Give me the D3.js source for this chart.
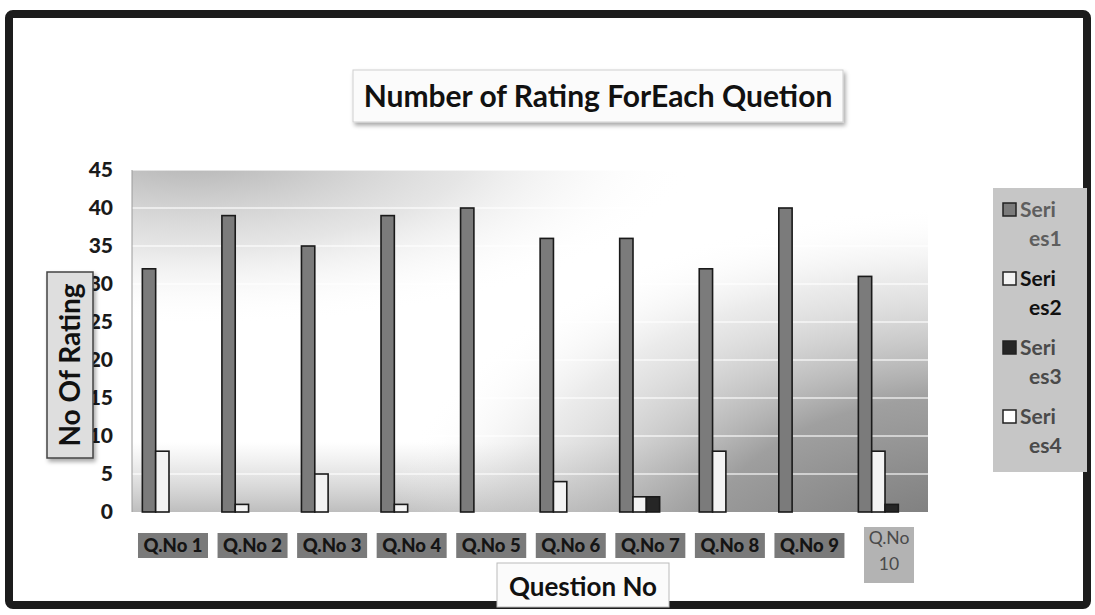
<!DOCTYPE html>
<html><head><meta charset="utf-8">
<script src="https://cdn.jsdelivr.net/npm/d3@7/dist/d3.min.js"></script>
<style>body{margin:0;background:#fff}svg{display:block}text{font-family:Lato,"Open Sans",sans-serif}</style>
</head><body>
<script>
const categories = ["Q.No 1","Q.No 2","Q.No 3","Q.No 4","Q.No 5","Q.No 6","Q.No 7","Q.No 8","Q.No 9","Q.No 10"];
const seriesNames = ["Series1","Series2","Series3","Series4"];
const series1 = [32,39,35,39,40,36,36,32,40,31];
const series2 = [8,1,5,1,0,4,2,8,0,8];
const series3 = [0,0,0,0,0,0,2,0,0,1];
const series4 = [0,0,0,0,0,0,0,0,0,0];
const yTicks = [0,5,10,15,20,25,30,35,40,45];
const titleText = "Number of Rating ForEach Quetion";
const yTitle = "No Of Rating";
const xTitle = "Question No";

const allSeries = [series1, series2, series3, series4];
const fills = ["#7b7b7b","#f3f3f3","#262626","#ffffff"];
const legendText = ["#5e5e5e","#111","#4a4a4a","#4a4a4a"];

const W = 1095, H = 615;
const svg = d3.select("body").append("svg").attr("width", W).attr("height", H);
const defs = svg.append("defs");

const plot = {l:132, t:170, r:928, b:512};

// gradients
const g1 = defs.append("radialGradient").attr("id","tl").attr("gradientUnits","userSpaceOnUse")
  .attr("cx",plot.l+60).attr("cy",plot.t-20).attr("r",420)
  .attr("gradientTransform",`translate(${plot.l+60},${plot.t-20}) scale(1.2,0.42) translate(${-(plot.l+60)},${-(plot.t-20)})`);
g1.append("stop").attr("offset",0).attr("stop-color","#adadad").attr("stop-opacity",1);
g1.append("stop").attr("offset",0.55).attr("stop-color","#d4d4d4").attr("stop-opacity",0.6);
g1.append("stop").attr("offset",1).attr("stop-color","#ffffff").attr("stop-opacity",0);

const g2 = defs.append("radialGradient").attr("id","br").attr("gradientUnits","userSpaceOnUse")
  .attr("cx",plot.r+40).attr("cy",plot.b+40).attr("r",560)
  .attr("gradientTransform",`translate(${plot.r+40},${plot.b+40}) scale(1.05,0.62) translate(${-(plot.r+40)},${-(plot.b+40)})`);
g2.append("stop").attr("offset",0).attr("stop-color","#767676").attr("stop-opacity",1);
g2.append("stop").attr("offset",0.45).attr("stop-color","#959595").attr("stop-opacity",0.9);
g2.append("stop").attr("offset",0.8).attr("stop-color","#cdcdcd").attr("stop-opacity",0.4);
g2.append("stop").attr("offset",1).attr("stop-color","#ffffff").attr("stop-opacity",0);

const g3 = defs.append("linearGradient").attr("id","bot").attr("x1",0).attr("y1",0).attr("x2",0).attr("y2",1);
g3.append("stop").attr("offset",0).attr("stop-color","#bbbbbb").attr("stop-opacity",0);
g3.append("stop").attr("offset",1).attr("stop-color","#a8a8a8").attr("stop-opacity",0.75);

const sh = defs.append("filter").attr("id","sh").attr("x","-10%").attr("y","-20%").attr("width","130%").attr("height","160%");
sh.append("feDropShadow").attr("dx",2).attr("dy",3).attr("stdDeviation",2).attr("flood-color","#000").attr("flood-opacity",0.35);

// outer frame
svg.append("rect").attr("x",9).attr("y",14).attr("width",1078).attr("height",591)
  .attr("rx",4).attr("fill","#fff").attr("stroke","#1c1c1c").attr("stroke-width",8);

// plot background
svg.append("rect").attr("x",plot.l).attr("y",plot.t).attr("width",plot.r-plot.l).attr("height",plot.b-plot.t).attr("fill","#fff");
svg.append("rect").attr("x",plot.l).attr("y",plot.t).attr("width",plot.r-plot.l).attr("height",plot.b-plot.t).attr("fill","url(#tl)");
svg.append("rect").attr("x",plot.l).attr("y",plot.b-70).attr("width",plot.r-plot.l).attr("height",70).attr("fill","url(#bot)");
svg.append("rect").attr("x",plot.l).attr("y",plot.t).attr("width",plot.r-plot.l).attr("height",plot.b-plot.t).attr("fill","url(#br)");

const y = d3.scaleLinear().domain([0,45]).range([plot.b, plot.t]);
const x0 = d3.scaleBand().domain(categories).range([plot.l, 922]).paddingInner(0.33).paddingOuter(0.13);
const x1 = d3.scaleBand().domain(seriesNames).range([0, x0.bandwidth()]);

// gridlines
svg.append("g").selectAll("line").data(yTicks.slice(1)).join("line")
  .attr("x1",plot.l).attr("x2",plot.r).attr("y1",d=>y(d)).attr("y2",d=>y(d))
  .attr("stroke","#ffffff").attr("stroke-opacity",0.75).attr("stroke-width",1.5);

// y axis line
svg.append("line").attr("x1",plot.l).attr("x2",plot.l).attr("y1",plot.t).attr("y2",plot.b)
  .attr("stroke","#9a9a9a").attr("stroke-width",1);

// y axis
const ya = svg.append("g").attr("transform",`translate(${plot.l},0)`)
  .call(d3.axisLeft(y).tickValues(yTicks).tickSize(0).tickPadding(19));
ya.select(".domain").remove();
ya.selectAll("text").attr("font-family","Lato, sans-serif").attr("font-size",21).attr("font-weight",900).attr("fill","#1a1a1a");

// bars
const rows = categories.map((c,i)=>({c, vals: allSeries.map((s,k)=>({k, v:s[i]}))}));
const grp = svg.append("g").selectAll("g").data(rows).join("g")
  .attr("transform",d=>`translate(${x0(d.c)},0)`);
grp.selectAll("rect").data(d=>d.vals.filter(e=>e.v>0)).join("rect")
  .attr("x",d=>x1(seriesNames[d.k])).attr("width",x1.bandwidth())
  .attr("y",d=>y(d.v)).attr("height",d=>y(0)-y(d.v))
  .attr("fill",d=>fills[d.k]).attr("stroke","#1a1a1a").attr("stroke-width",1.6);

// x category labels
const xl = svg.append("g");
categories.forEach((c,i)=>{
  const cx = x0(c) + x0.bandwidth()/2 + 4;
  if (i < 9) {
    xl.append("rect").attr("x",cx-35).attr("y",533).attr("width",70).attr("height",25).attr("fill","#7a7a7a");
    xl.append("text").attr("x",cx).attr("y",552).attr("text-anchor","middle")
      .attr("font-size",18.5).attr("font-weight",900).attr("fill","#141414").text(c);
  } else {
    const parts = c.split(" ");
    xl.append("rect").attr("x",cx-25).attr("y",527).attr("width",50).attr("height",56).attr("fill","#b3b3b3");
    xl.append("text").attr("x",cx).attr("y",544).attr("text-anchor","middle")
      .attr("font-size",17.5).attr("font-weight",400).attr("fill","#4a4a4a").text(parts[0]);
    xl.append("text").attr("x",cx).attr("y",570).attr("text-anchor","middle")
      .attr("font-size",17.5).attr("font-weight",400).attr("fill","#4a4a4a").text(parts[1]);
  }
});

// title
svg.append("rect").attr("x",353).attr("y",70).attr("width",490).attr("height",52)
  .attr("fill","#fbfbfb").attr("stroke","#cfcfcf").attr("stroke-width",1).attr("filter","url(#sh)");
svg.append("text").attr("x",598).attr("y",107).attr("text-anchor","middle")
  .attr("font-size",30).attr("font-weight",700).attr("fill","#111").text(titleText);

// y title
svg.append("rect").attr("x",47).attr("y",272).attr("width",46).attr("height",186)
  .attr("fill","#dedede").attr("stroke","#444").attr("stroke-width",1.5).attr("filter","url(#sh)");
svg.append("text").attr("transform","translate(80,365) rotate(-90)").attr("text-anchor","middle")
  .attr("font-size",28).attr("font-weight",700).attr("fill","#111").text(yTitle);

// x title
svg.append("rect").attr("x",497).attr("y",563).attr("width",172).attr("height",44)
  .attr("fill","#fbfbfb").attr("stroke","#bbb").attr("stroke-width",1);
svg.append("text").attr("x",583).attr("y",596).attr("text-anchor","middle")
  .attr("font-size",26).attr("font-weight",700).attr("fill","#111").text(xTitle);

// legend
svg.append("rect").attr("x",993).attr("y",188).attr("width",94).attr("height",284).attr("fill","#c6c6c6");
const lg = svg.append("g").selectAll("g").data(seriesNames).join("g")
  .attr("transform",(d,i)=>`translate(1003,${210 + i*69})`);
lg.append("rect").attr("x",0).attr("y",-7).attr("width",13).attr("height",13)
  .attr("fill",(d,i)=>fills[i]).attr("stroke","#222").attr("stroke-width",1.5);
lg.append("text").attr("x",17).attr("y",7).attr("font-size",21).attr("font-weight",700)
  .attr("fill",(d,i)=>legendText[i]).text(d=>d.slice(0,4));
lg.append("text").attr("x",26).attr("y",36).attr("font-size",21).attr("font-weight",700)
  .attr("fill",(d,i)=>legendText[i]).text(d=>d.slice(4));
</script>
</body></html>
